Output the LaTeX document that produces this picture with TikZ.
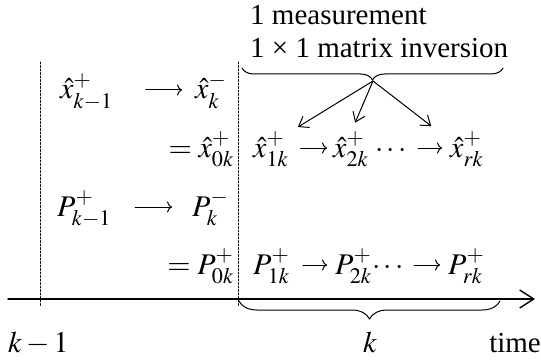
\documentclass[tikz,border=0pt]{standalone}
\usepackage{mathptmx}
\usepackage[no-math]{fontspec}
\setmainfont{Liberation Serif}
\usetikzlibrary{arrows.meta,decorations.pathreplacing}

\begin{document}
\begin{tikzpicture}[
    x={(1pt,0pt)},
    y={(0pt,-1pt)},
    line cap=round,
    line join=round,
    lbl/.style={inner sep=0pt,font=\fontsize{29}{34}\selectfont},
    sym/.style={inner sep=0pt,font=\fontsize{30}{36}\selectfont,text height=24pt,text depth=6pt},
    guide/.style={line width=0.7pt,dashed,dash pattern=on 2pt off 1.5pt},
    flow/.style={line width=1pt,-{To[length=5pt,width=11pt]}},
    fan/.style={line width=1pt,shorten >=11pt,-{Straight Barb[length=9pt,width=13pt]}},
    axisline/.style={line width=1.4pt,-{Straight Barb[length=14pt,width=18pt]}},
    curly/.style={line width=1pt,decorate,decoration={brace,amplitude=#1}}
]

% =========================================================
% Parameters
% =========================================================

\def\rowa{99}     % baseline of the x-hat row
\def\rowb{157}    % baseline of the x-hat chain
\def\rowc{216}    % baseline of the P row
\def\rowd{274}    % baseline of the P chain
\def\yaxis{299}   % time axis
\def\xprev{40}    % line at step k-1
\def\xnow{238}    % line at step k

\useasboundingbox (0,0) rectangle (541,361);

% =========================================================
% Dashed lines at the sample times
% =========================================================

\draw[guide] (\xprev,62) -- (\xprev,306);
\draw[guide] (\xnow,62)  -- (\xnow,306);

% =========================================================
% Caption over the measurement updates
% =========================================================

\node[lbl,anchor=base west] (meas) at (250,25) {1 measurement};
\node[lbl,anchor=base west] (inv)  at (250,58) {1 × 1 matrix inversion};

\draw[curly=12pt] (503,68) -- (242,68);
\coordinate (fork) at (373,81);

% =========================================================
% Time update of the state estimate
% =========================================================

\node[sym,anchor=base west] (xprev)  at (60,\rowa)  {$\hat{x}^{+}_{k-1}$};
\node[sym,anchor=base west] (xprior) at (195,\rowa) {$\hat{x}^{-}_{k}$};

\draw[flow,shorten <=33pt,shorten >=13pt] (xprev) -- (xprior);

% =========================================================
% Measurement updates of the state estimate
% =========================================================

\node[sym,anchor=base east] (xzero) at (234,\rowb) {$=\hat{x}^{+}_{0k}$};
\node[sym,anchor=base west] (xone)  at (253,\rowb) {$\hat{x}^{+}_{1k}$};
\node[sym,anchor=base west] (xtwo)  at (333,\rowb) {$\hat{x}^{+}_{2k}$};
\node[sym,anchor=base west] (xdots) at (375,\rowb) {$\cdots$};
\node[sym,anchor=base west] (xlast) at (450,\rowb) {$\hat{x}^{+}_{rk}$};

\draw[flow,shorten <=12pt,shorten >=6pt] (xone)  -- (xtwo);
\draw[flow,shorten <=11pt,shorten >=8pt] (xdots) -- (xlast);

\draw[fan] (fork) -- (xone.north east);
\draw[fan] (fork) -- (xtwo.north);
\draw[fan] (fork) -- ([xshift=-10pt]xlast.north west);

% =========================================================
% Time update of the covariance
% =========================================================

\node[sym,anchor=base west] (pprev)  at (57,\rowc)  {$P^{+}_{k-1}$};
\node[sym,anchor=base west] (pprior) at (192,\rowc) {$P^{-}_{k}$};

\draw[flow,shorten <=24pt,shorten >=20pt] (pprev) -- (pprior);

% =========================================================
% Measurement updates of the covariance
% =========================================================

\node[sym,anchor=base east] (pzero) at (234,\rowd) {$=P^{+}_{0k}$};
\node[sym,anchor=base west] (pone)  at (253,\rowd) {$P^{+}_{1k}$};
\node[sym,anchor=base west] (ptwo)  at (335,\rowd) {$P^{+}_{2k}$};
\node[sym,anchor=base west] (pdots) at (372,\rowd) {$\cdots$};
\node[sym,anchor=base west] (plast) at (448,\rowd) {$P^{+}_{rk}$};

\draw[flow,shorten <=13pt,shorten >=8pt] (pone)  -- (ptwo);
\draw[flow,shorten <=10pt,shorten >=8pt] (pdots) -- (plast);

% =========================================================
% Time axis
% =========================================================

\coordinate (tstart) at (8,\yaxis);
\coordinate (tend)   at (535,\yaxis);
\draw[axisline] (tstart) -- (tend);

\draw[curly=18pt] (500,\yaxis+2) -- (239,\yaxis+2);

\node[sym,anchor=base west] (tprev)  at (8,352)   {$k-1$};
\node[sym,anchor=base]      (tnow)   at (370,352) {$k$};
\node[lbl,anchor=base east] (tlabel) at (541,352) {time};

\end{tikzpicture}
\end{document}
